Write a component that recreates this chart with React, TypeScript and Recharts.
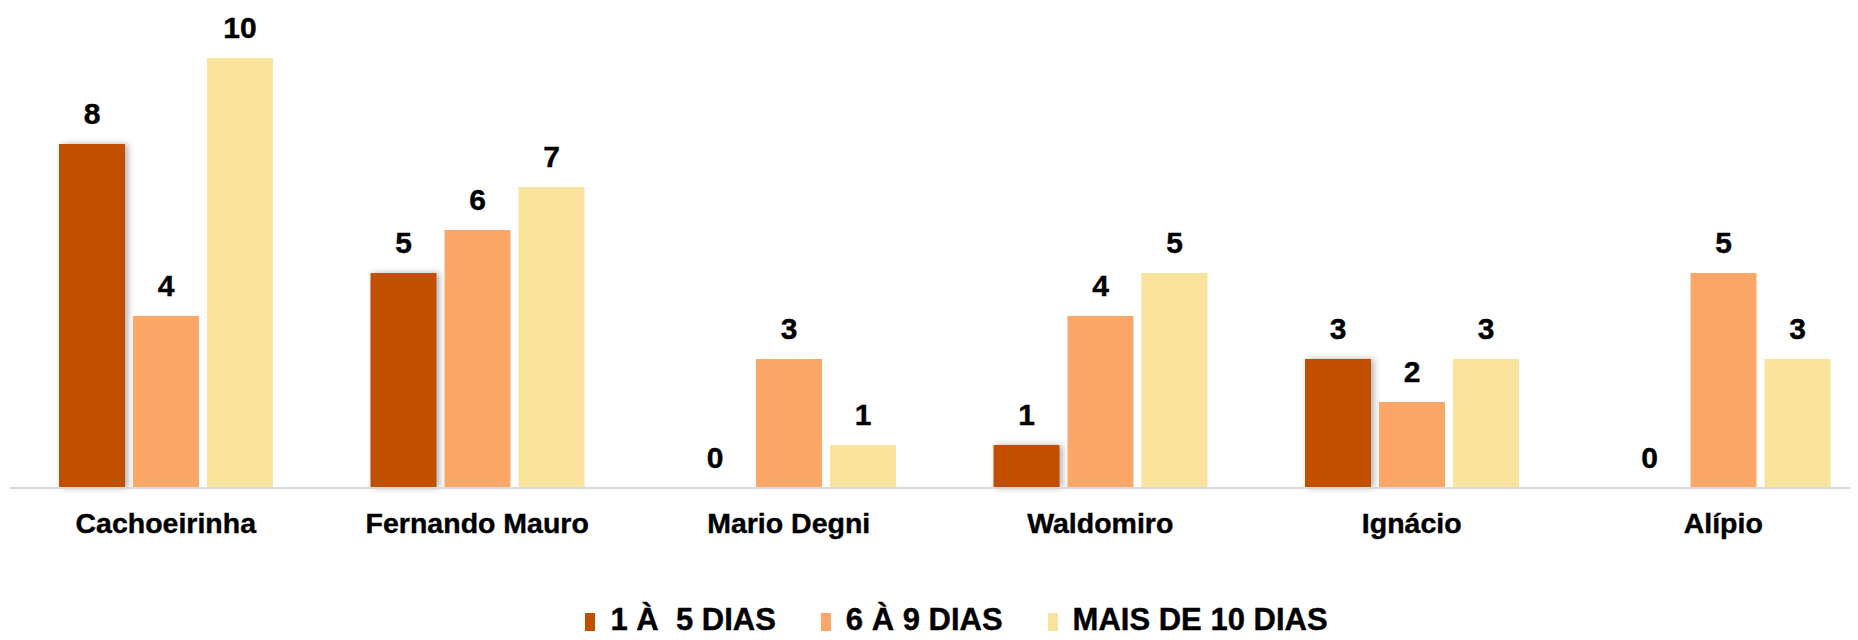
import React from "react";
import { BarChart, Bar, XAxis, YAxis, LabelList, Legend } from "recharts";

const categories = ["Cachoeirinha", "Fernando Mauro", "Mario Degni", "Waldomiro", "Ignácio", "Alípio"];
const seriesNames = ["1 À  5 DIAS", "6 À 9 DIAS", "MAIS DE 10 DIAS"];
const s1 = [8, 5, 0, 1, 3, 0];
const s2 = [4, 6, 3, 4, 2, 5];
const s3 = [10, 7, 1, 5, 3, 3];
const colors = ["#C05000", "#FCA768", "#FAE49D"];

const data = categories.map((c, i) => ({ name: c, a: s1[i], b: s2[i], c: s3[i] }));

const FONT = '"Liberation Sans", Arial, sans-serif';

const Tick = (props: any) => {
  const { x, y, payload } = props;
  return (
    <text x={x} y={y + 45} textAnchor="middle" fontFamily={FONT} fontSize={28.5} fontWeight="bold" fill="#000" stroke="#000" strokeWidth={0.4}>
      {payload.value}
    </text>
  );
};

const LegendContent = () => (
  <div
    style={{
      display: "flex",
      justifyContent: "center",
      alignItems: "center",
      height: 40,
      lineHeight: "44px",
      fontFamily: FONT,
      fontSize: 31,
      fontWeight: "bold",
      color: "#000",
      paddingLeft: 24,
      WebkitTextStroke: "0.4px #000",
    }}
  >
    {seriesNames.map((n, i) => (
      <div key={n} style={{ display: "flex", alignItems: "center", marginRight: i < 2 ? 45 : 0 }}>
        <span style={{ display: "inline-block", width: 10, height: 18, background: colors[i], marginRight: 15, marginTop: 4 }} />
        <span style={{ whiteSpace: "pre" }}>{n}</span>
      </div>
    ))}
  </div>
);

const DarkShape = (props: any) => {
  const { x, y, width, height, fill } = props;
  if (!height) return null;
  return (
    <rect x={x} y={y} width={width} height={height} fill={fill} style={{ filter: "drop-shadow(3px 0px 3px rgba(0,0,0,0.3))" }} />
  );
};

const labelProps = {
  position: "top" as const,
  offset: 20,
  fontFamily: FONT,
  fontSize: 30,
  fontWeight: "bold",
  fill: "#000",
  stroke: "#000",
  strokeWidth: 0.4,
};

export default function App() {
  return (
    <div style={{ marginLeft: -8, marginTop: -8, width: 1858, height: 640, overflow: "hidden", background: "#fff", fontFamily: FONT }}>
      <BarChart
        width={1890}
        height={640}
        data={data}
        margin={{ top: 58, right: 11, left: 10, bottom: 0 }}
        barSize={66}
        barGap={8}
      >
        <XAxis
          dataKey="name"
          axisLine={{ stroke: "#D9D9D9", strokeWidth: 2 }}
          tickLine={false}
          tickSize={0}
          tickMargin={0}
          height={112}
          tick={<Tick />}
          interval={0}
        />
        <YAxis hide domain={[0, 10]} />
        <Legend verticalAlign="bottom" content={<LegendContent />} />
        <Bar dataKey="a" name={seriesNames[0]} fill={colors[0]} isAnimationActive={false} shape={<DarkShape />}>
          <LabelList dataKey="a" {...labelProps} />
        </Bar>
        <Bar dataKey="b" name={seriesNames[1]} fill={colors[1]} isAnimationActive={false}>
          <LabelList dataKey="b" {...labelProps} />
        </Bar>
        <Bar dataKey="c" name={seriesNames[2]} fill={colors[2]} isAnimationActive={false}>
          <LabelList dataKey="c" {...labelProps} />
        </Bar>
      </BarChart>
    </div>
  );
}
